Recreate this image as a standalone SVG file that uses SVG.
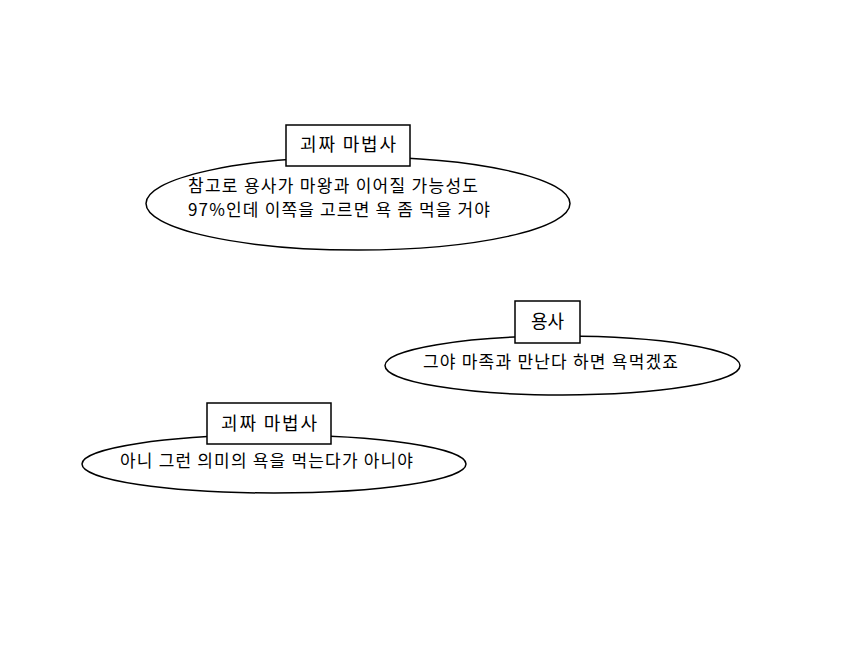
<svg xmlns="http://www.w3.org/2000/svg" width="850" height="661" viewBox="0 0 850 661">
<style>
.bubble{fill:#fff;stroke:#000;stroke-width:1.5}
.tag{fill:#fff;stroke:#000;stroke-width:1.5}
text{font-family:"Noto Sans CJK KR","Noto Sans",sans-serif;fill:#000}
.lbl{font-size:18px;text-anchor:middle}
.body{font-size:17px}
</style>
<rect width="850" height="661" fill="#fff"/>
<g id="connectors"></g>
<g id="node1">
<ellipse class="bubble" cx="358" cy="203.5" rx="212" ry="46.5"/>
<text class="body" x="188" y="192" textLength="290" lengthAdjust="spacing">참고로 용사가 마왕과 이어질 가능성도</text>
<text class="body" x="188" y="216" textLength="302" lengthAdjust="spacing">97%인데 이쪽을 고르면 욕 좀 먹을 거야</text>
</g>
<g id="label1">
<rect class="tag" x="286" y="125" width="124" height="41"/>
<text class="lbl" x="348" y="151" textLength="96" lengthAdjust="spacing">괴짜 마법사</text>
</g>
<g id="node2">
<ellipse class="bubble" cx="562.5" cy="365.5" rx="177.5" ry="29.5"/>
<text class="body" x="423" y="368" textLength="255" lengthAdjust="spacing">그야 마족과 만난다 하면 욕먹겠죠</text>
</g>
<g id="label2">
<rect class="tag" x="515" y="301" width="65" height="42"/>
<text class="lbl" x="547.5" y="328">용사</text>
</g>
<g id="node3">
<ellipse class="bubble" cx="274" cy="464" rx="192" ry="29"/>
<text class="body" x="120" y="467" textLength="293" lengthAdjust="spacing">아니 그런 의미의 욕을 먹는다가 아니야</text>
</g>
<g id="label3">
<rect class="tag" x="207" y="403" width="124" height="41"/>
<text class="lbl" x="269" y="430" textLength="96" lengthAdjust="spacing">괴짜 마법사</text>
</g>
</svg>
